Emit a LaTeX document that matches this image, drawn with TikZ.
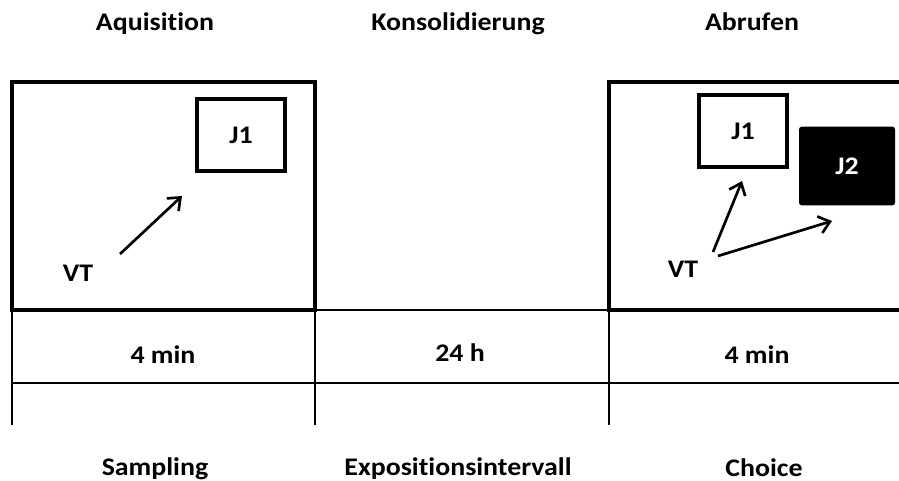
\documentclass[tikz,border=0pt]{standalone}
\usepackage{fontspec}
\setmainfont{Carlito}[FakeStretch=1.1, Ligatures={NoCommon}]
\usetikzlibrary{arrows.meta}
\begin{document}
\begin{tikzpicture}[x=0.75pt,y=-0.75pt,
    lbl/.style={font=\bfseries\fontsize{19}{22}\selectfont, inner sep=1pt},
    dicke/.style={line width=3pt},
    duenn/.style={line width=1.8pt},
    objekt/.style={draw, line width=3pt, minimum width=66pt, minimum height=54pt, lbl},
    pfeil/.style={line width=2pt, -{Straight Barb[length=8pt,width=13pt]}}]
    \useasboundingbox (0,0) rectangle (899,481);

    % Phasen oben
    \node[lbl, anchor=base] (aqu) at (155,31) {Aquisition};
    \node[lbl, anchor=base] (kons) at (458,31) {Konsolidierung};
    \node[lbl, anchor=base] (abr) at (752,31) {Abrufen};

    % Arena links und rechts
    \draw[dicke] (12,82) rectangle (315,310);
    \draw[dicke] (899,82) -- (609,82) -- (609,310) -- (899,310);
    \draw[duenn] (315,310) -- (609,310);

    % Zeitleiste
    \draw[duenn] (12,383) -- (899,383);
    \foreach \x in {12,315,609}
        \draw[duenn] (\x,310) -- (\x,425);

    \node[lbl, anchor=base] (ta) at (163,363) {4 min};
    \node[lbl, anchor=base] (tk) at (460,361) {24 h};
    \node[lbl, anchor=base] (tb) at (757,363) {4 min};

    \node[lbl, anchor=base] (samp) at (155,475) {Sampling};
    \node[lbl, anchor=base] (expo) at (458,475) {Expositionsintervall};
    \node[lbl, anchor=base] (choi) at (764,476) {Choice};

    % Sampling
    \node[objekt] (jA) at (241,135) {J1};
    \node[lbl] (vtA) at (78,273) {VT};
    \coordinate (sA) at (120,254);
    \coordinate (eA) at (182,196);
    \draw[pfeil] (sA) -- (eA);

    % Choice
    \node[objekt] (jB) at (743,131) {J1};
    \node[fill=black, rounded corners=2pt, minimum width=72pt, minimum height=59pt,
          text=white, lbl] (jC) at (847,166) {J2};
    \node[lbl] (vtB) at (683,269) {VT};
    \coordinate (sB) at (713,252);
    \coordinate (eB) at (742,181);
    \coordinate (sC) at (718,256);
    \coordinate (eC) at (832,221);
    \draw[pfeil] (sB) -- (eB);
    \draw[pfeil] (sC) -- (eC);
\end{tikzpicture}
\end{document}
